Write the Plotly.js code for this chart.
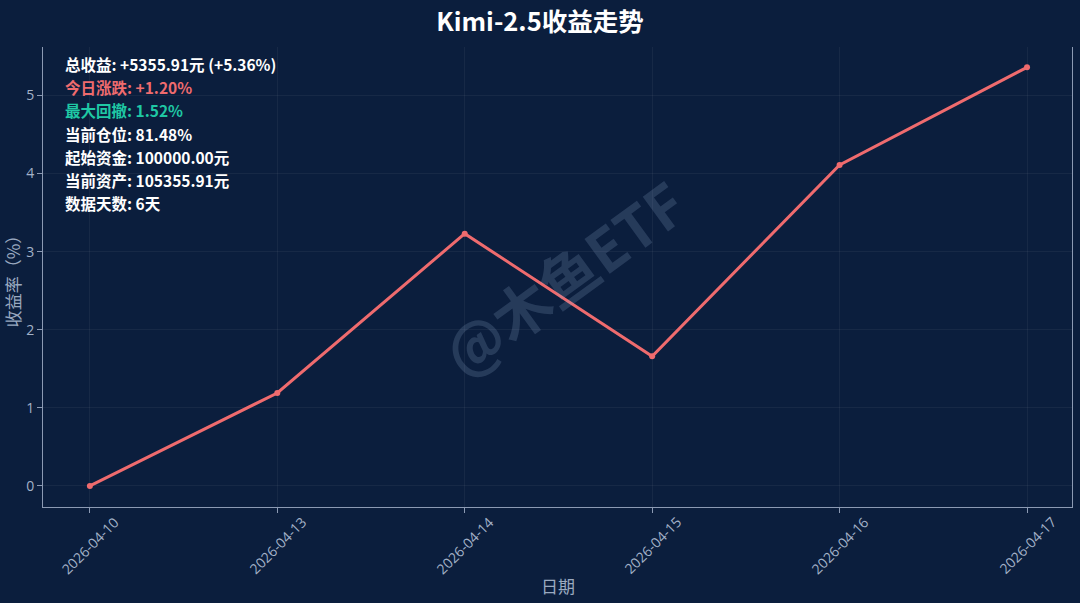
<!DOCTYPE html>
<html>
<head>
<meta charset="utf-8">
<script src="https://cdn.plot.ly/plotly-3.0.1.min.js"></script>
<style>html,body{margin:0;padding:0;background:#0b1e3d;}#chart{width:1080px;height:603px;}</style>
</head>
<body>
<div id="chart"></div>
<script>
const dates = ["2026-04-10","2026-04-13","2026-04-14","2026-04-15","2026-04-16","2026-04-17"];
const returns = [0, 1.19, 3.23, 1.66, 4.11, 5.36];
const yTicks = [0, 1, 2, 3, 4, 5];
const infoLines = [
  ["总收益: +5355.91元 (+5.36%)", "#ffffff"],
  ["今日涨跌: +1.20%", "#ef6b6e"],
  ["最大回撤: 1.52%", "#1fc8a4"],
  ["当前仓位: 81.48%", "#ffffff"],
  ["起始资金: 100000.00元", "#ffffff"],
  ["当前资产: 105355.91元", "#ffffff"],
  ["数据天数: 6天", "#ffffff"]
];
const FONT = "'Noto Sans CJK SC', 'Open Sans', sans-serif";
const TICKC = "#a3b2c8";
const bg = "#0b1e3d";
const annotations = infoLines.map((l, i) => ({
  xref: "paper", yref: "paper", x: 0.0195, y: 0.963 - i * 0.0505,
  xanchor: "left", yanchor: "middle", showarrow: false,
  text: "<b>" + l[0] + "</b>", font: {family: FONT, size: 15.5, color: l[1]}
}));
annotations.push({
  xref: "paper", yref: "paper", x: 0.505, y: 0.5, showarrow: false,
  text: "<b>@木鱼ETF</b>", textangle: -36,
  font: {family: FONT, size: 58, color: "rgba(150,175,210,0.2)"}
});
dates.forEach(d => annotations.push({
  xref: "x", yref: "paper", x: d, y: -0.083, showarrow: false,
  xanchor: "center", yanchor: "middle", textangle: -45,
  text: d, font: {family: "'Open Sans', sans-serif", size: 14, color: TICKC}
}));
annotations.push({
  xref: "paper", yref: "paper", x: 0.5, y: -0.17, showarrow: false,
  xanchor: "center", yanchor: "middle",
  text: "日期", font: {family: FONT, size: 17, color: "#9aa9c0"}
});
Plotly.newPlot("chart", [{
  x: dates, y: returns, type: "scatter", mode: "lines+markers",
  line: {color: "#ef6b6e", width: 3}, marker: {color: "#ef6b6e", size: 6}
}], {
  width: 1080, height: 603,
  paper_bgcolor: bg, plot_bgcolor: bg,
  margin: {l: 43, r: 8, t: 47, b: 96},
  title: {text: "<b>Kimi-2.5收益走势</b>", x: 0.5, y: 0.963, yanchor: "middle",
    font: {family: FONT, size: 25.5, color: "#ffffff"}},
  xaxis: {type: "category", range: [-0.25, 5.24], showticklabels: false, automargin: false,
    showline: true, linecolor: "#8c9ab3", linewidth: 1, ticks: "outside", tickcolor: "#8c9ab3", ticklen: 5,
    showgrid: true, gridcolor: "rgba(255,255,255,0.05)", zeroline: false},
  yaxis: {range: [-0.27, 5.62], tickvals: yTicks, automargin: false,
    title: {text: "收益率（%）", font: {family: FONT, size: 17, color: "#9aa9c0"}, standoff: 6},
    tickfont: {family: "'Open Sans', sans-serif", size: 14, color: TICKC},
    showline: true, mirror: true, linecolor: "#8c9ab3", linewidth: 1, ticks: "outside", tickcolor: "#8c9ab3", ticklen: 5,
    showgrid: true, gridcolor: "rgba(255,255,255,0.05)", zeroline: false},
  showlegend: false,
  annotations: annotations
}, {displayModeBar: false});
</script>
</body>
</html>
